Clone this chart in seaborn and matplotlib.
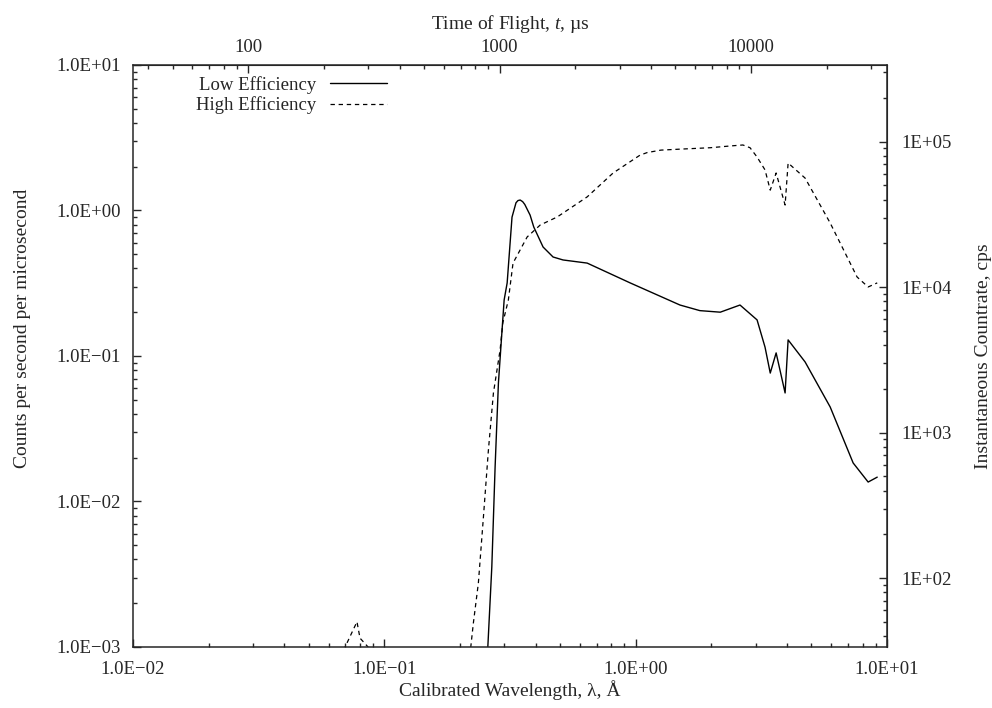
import numpy as np
import pandas as pd
import matplotlib
matplotlib.use('Agg')
import matplotlib.pyplot as plt
from matplotlib.ticker import FuncFormatter, LogLocator, NullFormatter, FixedLocator
import seaborn as sns

sns.set_style('ticks')
plt.rcParams['font.family'] = ['Liberation Serif', 'DejaVu Serif']
plt.rcParams['font.size'] = 13.5
plt.rcParams['mathtext.fontset'] = 'custom'
plt.rcParams['mathtext.it'] = 'Liberation Serif:italic'
plt.rcParams['mathtext.rm'] = 'Liberation Serif'

# wavelength (Angstrom) and counts per second per microsecond
low_wl = [0.250, 0.258, 0.2676, 0.2758, 0.2843, 0.2934, 0.2996, 0.308, 0.322, 0.334,
          0.340, 0.347, 0.355, 0.362, 0.380, 0.393, 0.428, 0.469, 0.514, 0.641, 0.95, 1.50,
          1.80, 2.17, 2.60, 3.04, 3.27, 3.43, 3.62, 3.93, 4.04, 4.72, 5.94, 7.33, 8.41, 9.14]
low_val = [0.0005, 0.001, 0.00355, 0.01726, 0.0652, 0.144, 0.2426, 0.318, 0.90, 1.13,
           1.17, 1.18, 1.15, 1.10, 0.93, 0.77, 0.561, 0.479, 0.457, 0.435, 0.318, 0.224,
           0.205, 0.200, 0.224, 0.177, 0.115, 0.0763, 0.105, 0.0557, 0.129, 0.091, 0.0446,
           0.0184, 0.0136, 0.0147]

high_wl = [0.066, 0.0698, 0.0778, 0.080, 0.0861, 0.090, 0.218, 0.2207, 0.226, 0.2366,
           0.2478, 0.2594, 0.2716, 0.2887, 0.296, 0.3114, 0.325, 0.370, 0.417, 0.487,
           0.641, 0.813, 1.04, 1.11, 1.26, 1.50, 1.98, 2.40, 2.67, 2.85, 3.04, 3.27, 3.43,
           3.62, 3.93, 4.04, 4.72, 5.94, 7.6, 8.41, 9.14]
high_val = [0.0005, 0.001, 0.00149, 0.00115, 0.001, 0.0005, 0.0005, 0.001, 0.00146, 0.00275,
            0.00782, 0.0226, 0.0557, 0.110, 0.169, 0.2426, 0.435, 0.658, 0.795, 0.902,
            1.24, 1.81, 2.40, 2.50, 2.60, 2.64, 2.70, 2.78, 2.82, 2.70, 2.33, 1.90, 1.38,
            1.81, 1.09, 2.12, 1.67, 0.82, 0.349, 0.298, 0.318]

tof_ticks = [100, 1000, 10000]
cps_ticks = [1e2, 1e3, 1e4, 1e5]

TOF_PER_A = 3480.0      # microseconds per Angstrom
CPS_PER_UNIT = 33650.0  # cps per (counts/s/us)

low = pd.DataFrame({'wl': low_wl, 'val': low_val})
high = pd.DataFrame({'wl': high_wl, 'val': high_val})

fig = plt.figure(figsize=(9.92, 7.08), dpi=100)
ax = fig.add_axes([0.1341, 0.0862, 0.7601, 0.8220])

sns.lineplot(data=low, x='wl', y='val', ax=ax, color='black', lw=1.0,
             estimator=None, sort=False, label='Low Efficiency')
sns.lineplot(data=high, x='wl', y='val', ax=ax, color='black', lw=0.9,
             estimator=None, sort=False, linestyle=(0, (3.5, 3)), label='High Efficiency')

ax.set_xscale('log')
ax.set_yscale('log')
ax.set_xlim(0.01, 10)
ax.set_ylim(1e-3, 10)

sci = lambda v, p: f'{v:.1E}'.replace('-', '\u2212')
ax.xaxis.set_major_formatter(FuncFormatter(sci))
ax.yaxis.set_major_formatter(FuncFormatter(sci))
ax.xaxis.set_major_locator(LogLocator(base=10, numticks=10))
ax.yaxis.set_major_locator(LogLocator(base=10, numticks=10))
ax.xaxis.set_minor_formatter(NullFormatter())
ax.yaxis.set_minor_formatter(NullFormatter())
ax.tick_params(which='both', direction='in', top=False, right=False, labelsize=13.5, width=1.0)
ax.tick_params(which='major', length=6)
ax.tick_params(axis='x', which='major', pad=10)
ax.tick_params(axis='y', which='major', pad=9)
ax.tick_params(which='minor', length=3.2)
for s in ax.spines.values():
    s.set_linewidth(1.1)

ax.set_xlabel('Calibrated Wavelength, \u03bb, \u00c5', fontsize=14)
ax.set_ylabel('Counts per second per microsecond', fontsize=14)
ax.xaxis.set_label_coords(0.5, -0.057)
ax.yaxis.set_label_coords(-0.135, 0.548)

# top axis: time of flight
top = ax.secondary_xaxis('top', functions=(lambda x: x * TOF_PER_A, lambda t: t / TOF_PER_A))
top.xaxis.set_major_locator(FixedLocator(tof_ticks))
top.xaxis.set_major_formatter(FuncFormatter(lambda v, p: f'{v:.0f}'))
top.xaxis.set_minor_formatter(NullFormatter())
top.tick_params(which='both', direction='in', labelsize=13.5, width=1.0)
top.tick_params(which='major', length=6, pad=6.5)
top.tick_params(which='minor', length=3.2)
top.set_xlabel('Time of Flight, $t$, \u00b5s', fontsize=14, labelpad=7)

# right axis: instantaneous countrate
right = ax.secondary_yaxis('right', functions=(lambda v: v * CPS_PER_UNIT, lambda c: c / CPS_PER_UNIT))
right.yaxis.set_major_locator(FixedLocator(cps_ticks))
right.yaxis.set_major_formatter(FuncFormatter(lambda v, p: f'{v:.0E}'))
right.yaxis.set_minor_formatter(NullFormatter())
right.tick_params(which='both', direction='in', labelsize=13.5, width=1.0)
right.tick_params(which='major', length=6, pad=10)
right.tick_params(which='minor', length=3.2)
right.set_ylabel('Instantaneous Countrate, cps', fontsize=14, labelpad=17)

ax.legend(loc='center', bbox_to_anchor=(0.210, 0.9485), frameon=False, borderpad=0,
          markerfirst=False, handlelength=3.0, handletextpad=0.75, labelspacing=0.15,
          fontsize=13.5)

fig.savefig('out.png', dpi=100)
